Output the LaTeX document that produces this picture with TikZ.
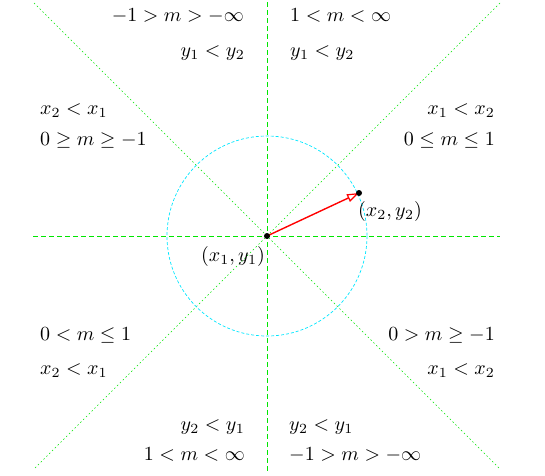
\documentclass[tikz,border=0pt]{standalone}
\usepackage{graphicx}
\usetikzlibrary{arrows.meta}
\definecolor{lgreen}{RGB}{0,230,0}
\definecolor{lcyan}{RGB}{0,230,255}
\newcommand{\dlbl}[1]{\scalebox{2}{$#1$}}
\tikzset{
  lbl/.style={inner sep=0pt},
  axisline/.style={lgreen, line width=0.8pt, dash pattern=on 5pt off 3pt},
  diagline/.style={lgreen, line width=0.6pt, dash pattern=on 1.5pt off 2.5pt},
  circline/.style={lcyan, line width=0.7pt, dash pattern=on 3pt off 2pt},
  pointdot/.style={fill=black},
  vec/.style={red, line width=1.4pt, -{Triangle[open, length=12pt, width=8pt, line width=1.2pt]}}
}
\begin{document}
\begin{tikzpicture}[x=1pt,y=-1pt]
\useasboundingbox (0,0) rectangle (545,475);
\coordinate (p1) at (267,236);
\coordinate (p2) at (359,193);
\coordinate (hl) at (33,236);
\coordinate (hr) at (500,236);
\coordinate (vt) at (267,2);
\coordinate (vb) at (267,473);
\coordinate (tl) at (34,3);
\coordinate (br) at (500,469);
\coordinate (tr) at (500,3);
\coordinate (bl) at (34,469);
% lines
\draw[axisline] (hl) -- (hr);
\draw[axisline] (vt) -- (vb);
\draw[diagline] (tl) -- (br);
\draw[diagline] (tr) -- (bl);
\draw[circline] (p1) circle[radius=100];
% vector
\draw[vec] (p1) -- (p2);
\fill[pointdot] (p1) circle[radius=3];
\fill[pointdot] (p2) circle[radius=3];
% labels
\node[lbl, anchor=base east] (t1) at (244,21) {\dlbl{-1>m>-\infty}};
\node[lbl, anchor=base west] (t2) at (290,21) {\dlbl{1<m<\infty}};
\node[lbl, anchor=base east] (t3) at (245,56.5) {\dlbl{y_1<y_2}};
\node[lbl, anchor=base west] (t4) at (290,56.5) {\dlbl{y_1<y_2}};
\node[lbl, anchor=base west] (l1) at (40,114.5) {\dlbl{x_2<x_1}};
\node[lbl, anchor=base west] (l2) at (40,145) {\dlbl{0\geq m\geq -1}};
\node[lbl, anchor=base east] (r1) at (495,114.5) {\dlbl{x_1<x_2}};
\node[lbl, anchor=base east] (r2) at (495,145) {\dlbl{0\leq m\leq 1}};
\node[lbl, anchor=base west] (l3) at (40,340) {\dlbl{0<m\leq 1}};
\node[lbl, anchor=base west] (l4) at (40,374.5) {\dlbl{x_2<x_1}};
\node[lbl, anchor=base east] (r3) at (495,340) {\dlbl{0>m\geq -1}};
\node[lbl, anchor=base east] (r4) at (495,374.5) {\dlbl{x_1<x_2}};
\node[lbl, anchor=base east] (b1) at (245,430) {\dlbl{y_2<y_1}};
\node[lbl, anchor=base west] (b2) at (289,430) {\dlbl{y_2<y_1}};
\node[lbl, anchor=base east] (b3) at (245,460) {\dlbl{1<m<\infty}};
\node[lbl, anchor=base west] (b4) at (289,460) {\dlbl{-1>m>-\infty}};
\node[lbl, anchor=base west] (pl1) at (201,261.5) {\dlbl{(x_1,y_1)}};
\node[lbl, anchor=base west] (pl2) at (358,216.5) {\dlbl{(x_2,y_2)}};
\end{tikzpicture}
\end{document}
